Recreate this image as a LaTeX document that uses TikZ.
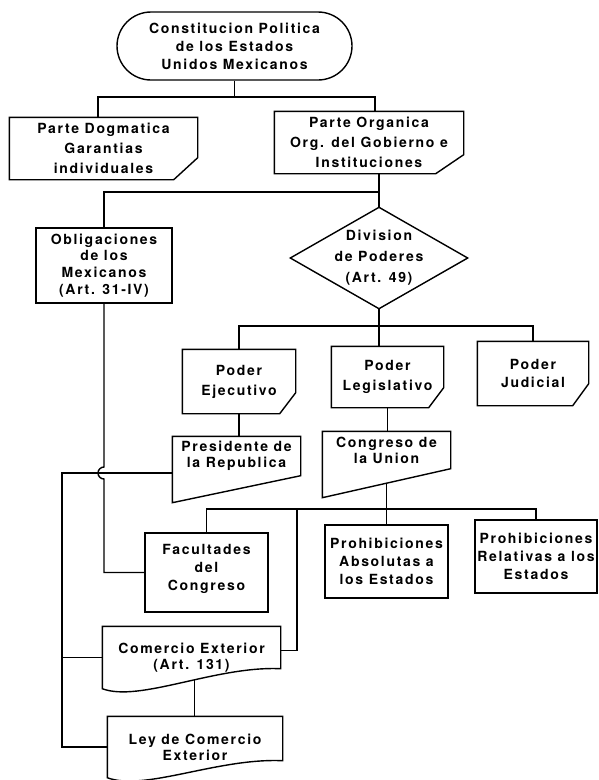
\documentclass[tikz,border=0pt]{standalone}
\usepackage{fontspec}
\setmainfont{TeX Gyre Heros}[LetterSpace=12]
\usepackage{tikz}
\usetikzlibrary{shapes.misc}
\tikzset{
    every node/.style={align=center, inner sep=0pt,
    	font=\fontsize{14}{18}\selectfont\bfseries}
}
\tikzset{
    terminal/.style={draw, rounded rectangle, minimum width=235pt, minimum height=68pt},
    box/.style={draw, rectangle},
    plain/.style={rectangle},
    wide/.style={font=\fontsize{14}{20}\selectfont\bfseries},
    tight/.style={font=\fontsize{14}{16}\selectfont\bfseries}
}
% outlines drawn round plain nodes
\newcommand{\cutbox}[3]{%
	\draw (#1.north west) -- (#1.north east) -- ([yshift=#3pt]#1.south east)
		-- ([xshift=-#2pt]#1.south east) -- (#1.south west) -- cycle;}
\newcommand{\slantbox}[2]{%
	\draw (#1.north west) -- (#1.north east) -- (#1.south east)
		-- ([yshift=-#2pt]#1.south west) -- cycle;}
\newcommand{\docbox}[2]{%
	\draw (#1.north west) -- (#1.north east) -- ([yshift=#2pt]#1.south east)
		.. controls +(-65pt,3pt) and +(37pt,-14pt) .. coordinate[pos=.43] (#1-w) (#1.south west) -- cycle;}

\begin{document}
\begin{tikzpicture}[x=1pt, y=-1pt, line width=1.4pt]
	\useasboundingbox (0,0) rectangle (598,780);

	\node (term) [terminal] at (234.5, 46) {Constitucion Politica\\de los Estados\\Unidos Mexicanos};
	\node (dogm) [plain, wide, minimum width=187pt, minimum height=61pt] at (103.5, 148.5) {Parte Dogmatica\\Garantias\\individuales};
	\node (orga) [plain, wide, minimum width=188pt, minimum height=61pt] at (369, 142.5) {Parte Organica\\Org. del Gobierno e\\Instituciones};
	\node (obl) [box, font=\fontsize{14}{16.7}\selectfont\bfseries, minimum width=136pt, minimum height=75pt] at (104, 265.5) {Obligaciones\\de los\\Mexicanos\\(Art. 31-IV)};
	\node (dia) [plain, font=\fontsize{14}{21}\selectfont\bfseries, minimum width=176pt, minimum height=100pt] at (379, 258) {Division\\de Poderes\\(Art. 49)};
	\node (ejec) [plain, wide, minimum width=112pt, minimum height=63pt] at (239, 381.5) {Poder\\Ejecutivo};
	\node (legi) [plain, wide, minimum width=111pt, minimum height=60pt] at (387.5, 377) {Poder\\Legislativo};
	\node (judi) [plain, minimum width=110pt, minimum height=63pt] at (533, 373.5) {Poder\\Judicial};
	\node (pres) [plain, tight, minimum width=127pt, minimum height=38pt] at (236.5, 456) {Presidente de\\la Republica};
	\node (cong) [plain, tight, minimum width=127pt, minimum height=36pt] at (386.5, 450) {Congreso de\\la Union};
	\node (facu) [box, minimum width=123pt, minimum height=79pt, text depth=10pt] at (206.5, 572.5) {Facultades\\del\\Congreso};
	\node (abso) [box, minimum width=123pt, minimum height=73pt] at (386.5, 561.5) {Prohibiciones\\Absolutas a\\los Estados};
	\node (rela) [box, minimum width=122pt, minimum height=73pt] at (536, 556.5) {Prohibiciones\\Relativas a los\\Estados};
	\node (come) [plain, tight, minimum width=177pt, minimum height=61pt] at (191.5, 657.5) {Comercio Exterior\\(Art. 131)};
	\node (ley) [plain, tight, minimum width=174pt, minimum height=60pt] at (195, 747) {Ley de Comercio\\Exterior};

	\cutbox{dogm}{24}{22} \cutbox{orga}{28}{19}
	\cutbox{ejec}{16}{21} \cutbox{legi}{15}{20} \cutbox{judi}{16}{22}
	\slantbox{pres}{27} \slantbox{cong}{29}
	\docbox{come}{20} \docbox{ley}{17}
	\draw (dia.north) -- (dia.east) -- (dia.south) -- (dia.west) -- cycle;

	\coordinate (b1) at (98, 97); \coordinate (b2) at (375, 97);
	\coordinate (b3) at (379, 192);
	\coordinate (b4) at (239, 326); \coordinate (b5) at (533, 326);
	\coordinate (b6) at (206.5, 509); \coordinate (b7) at (536, 509);
	\coordinate (b8) at (297, 509);
	\coordinate (l1) at (62, 473); \coordinate (hop) at (104, 473);

	\draw (term.south) -- (term.south |- b1);
	\draw (dogm.north -| b1) -- (b1) -- (b2) -- (b2 |- orga.north);
	\draw (orga.south -| dia.north) -- (dia.north); \draw (b3) -| (obl.north);
	\draw (ejec.north) -- (b4) -- (b5) -- (judi.north);
	\draw (dia.south) -- (dia.south |- legi.north);
	\draw (ejec.south) -- (ejec.south |- pres.north);
	\draw (legi.south) -- (legi.south |- cong.north);

	\draw (pres.west |- l1) -- (l1) |- (ley.west); \draw (l1 |- come.west) -- (come.west);
	\draw (obl.south) -- ([yshift=6pt]hop) arc[start angle=90, end angle=270, radius=6pt] |- (facu.west);

	\draw (facu.north) -- (b6) -- (b7) -- (rela.north);
	\draw ([yshift=-14pt]cong.south) -- (abso.north);
	\draw (b8) |- ([yshift=7pt]come.east);
	\draw (come-w) -- (come-w |- ley.north);
\end{tikzpicture}
\end{document}
